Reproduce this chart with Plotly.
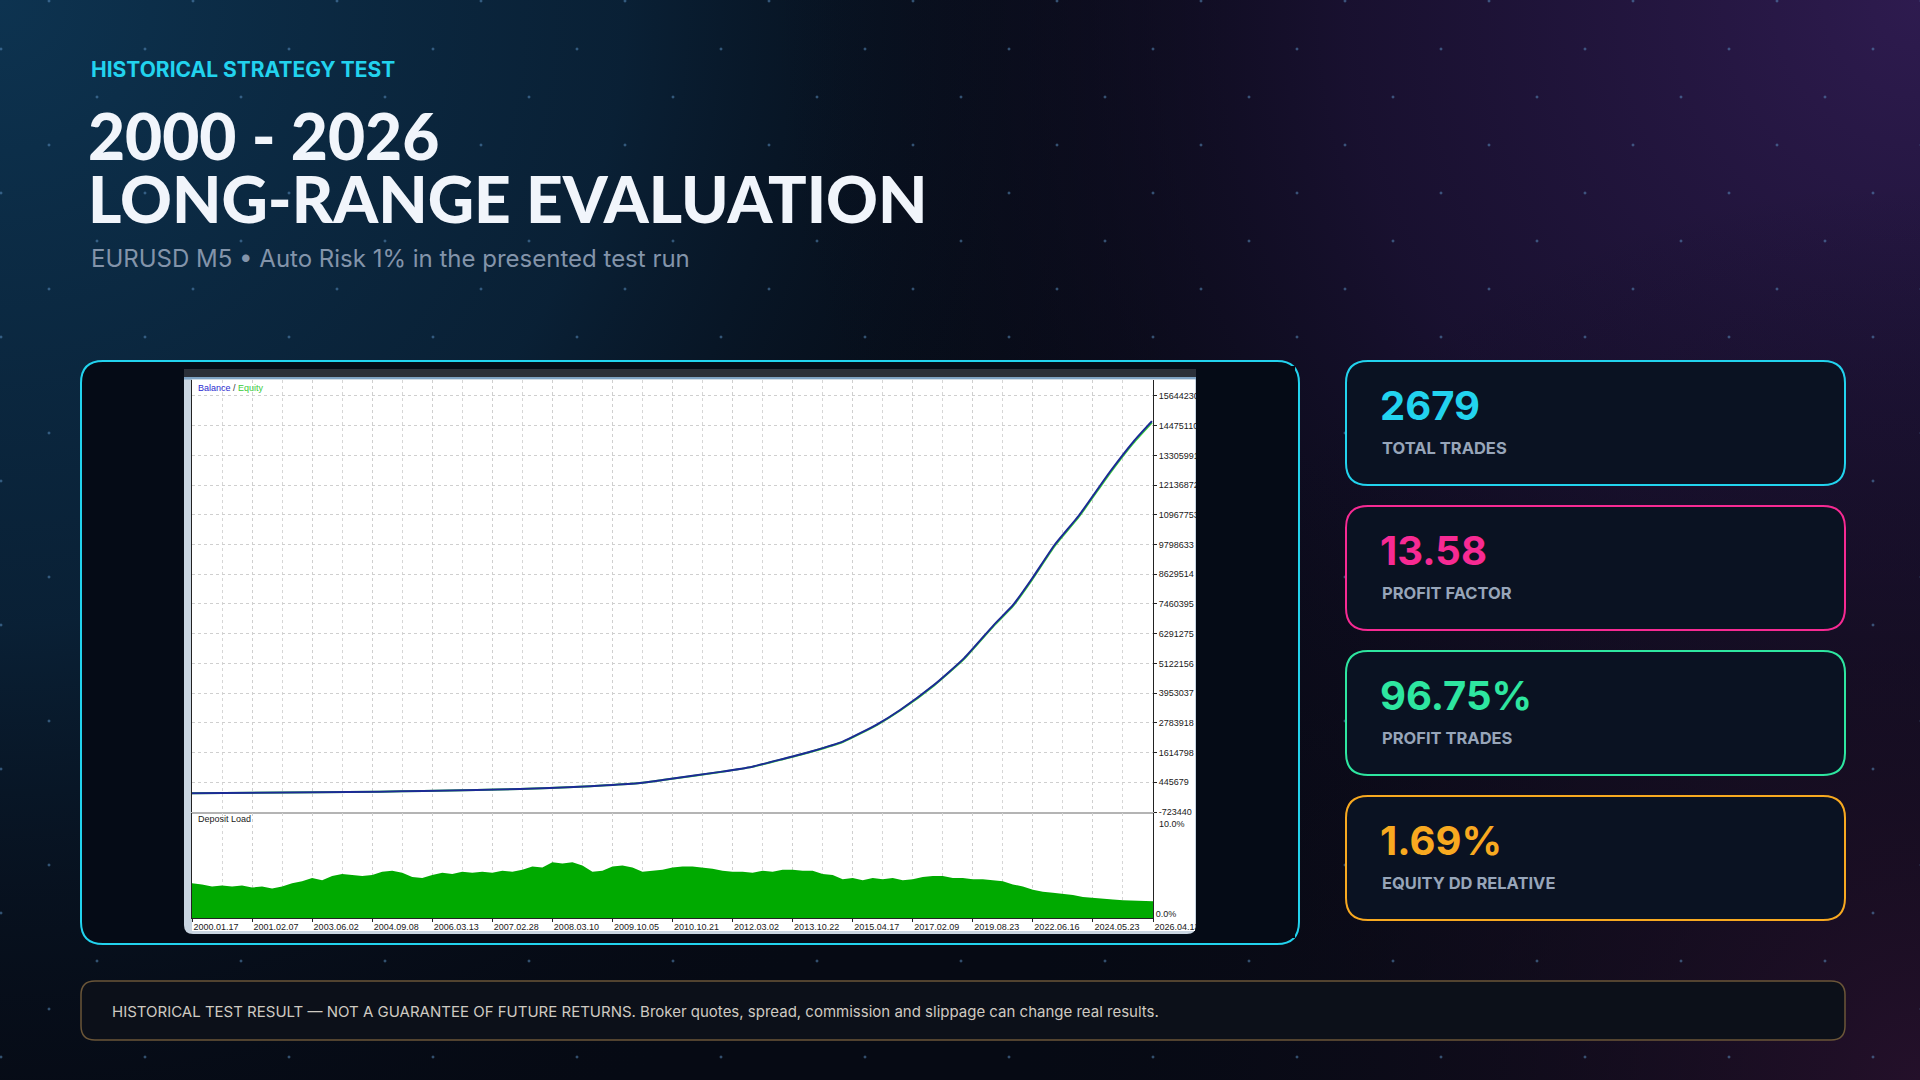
import base64
import numpy as np
import plotly.graph_objects as go

W, H = 1920, 1080

# balance curve (trade number -> account value)
balance_trade = [0, 351, 523, 645, 793, 914, 997, 1064, 1155, 1249, 1312, 1478, 1562, 1647,
                 1731, 1814, 1910, 1974, 2068, 2152, 2235, 2289, 2342, 2404, 2473, 2559, 2624, 2676]
balance_value = [10000, 52000, 78000, 104000, 144000, 183000, 222000, 262000, 328000, 420000,
                 537000, 865000, 1060000, 1363000, 1677000, 2044000, 2725000, 3289000, 4271000,
                 5320000, 6630000, 7420000, 8460000, 9770000, 10950000, 12660000, 13840000, 14650000]
equity_value = [10000, 51000, 77000, 103000, 143000, 181000, 220000, 260000, 325000, 416000,
                532000, 858000, 1052000, 1352000, 1665000, 2030000, 2708000, 3270000, 4248000,
                5295000, 6600000, 7385000, 8420000, 9725000, 10900000, 12610000, 13790000, 14600000]

# deposit load in %, sampled evenly across the trade axis
deposit_load = [3.3, 3.2, 3.0, 3.1, 3.0, 3.1, 2.9, 3.0, 2.8, 3.0, 3.3, 3.5, 3.8, 3.6, 4.0, 4.2,
                4.1, 4.0, 4.1, 4.4, 4.5, 4.3, 3.9, 3.8, 4.1, 4.3, 4.2, 4.4, 4.3, 4.4, 4.3, 4.5,
                4.4, 4.6, 4.9, 4.8, 5.3, 5.2, 5.3, 5.0, 4.4, 4.5, 4.9, 5.0, 4.8, 4.4, 4.5, 4.6,
                4.8, 4.9, 4.9, 4.8, 4.7, 4.5, 4.4, 4.4, 4.3, 4.5, 4.4, 4.6, 4.6, 4.5, 4.5, 4.2,
                4.1, 3.7, 3.8, 3.6, 3.8, 3.7, 3.8, 3.6, 3.7, 3.9, 4.0, 4.0, 3.8, 3.8, 3.7, 3.7,
                3.6, 3.5, 3.2, 3.0, 2.7, 2.5, 2.4, 2.3, 2.2, 2.0, 1.9, 1.8, 1.75, 1.7, 1.65, 1.65, 1.6]

total_trades = 2679
date_labels = ["2000.01.17", "2001.02.07", "2003.06.02", "2004.09.08", "2006.03.13", "2007.02.28",
               "2008.03.10", "2009.10.05", "2010.10.21", "2012.03.02", "2013.10.22", "2015.04.17",
               "2017.02.09", "2019.08.23", "2022.06.16", "2024.05.23", "2026.04.13"]
balance_ticks = [-723440, 445679, 1614798, 2783918, 3953037, 5122156, 6291275, 7460395, 8629514,
                 9798633, 10967753, 12136872, 13305991, 14475110, 15644230]
load_ticks = [0, 10]

card_values = ["2679", "13.58", "96.75%", "1.69%"]
card_labels = ["TOTAL TRADES", "PROFIT FACTOR", "PROFIT TRADES", "EQUITY DD RELATIVE"]
card_colors = ["#22d3ee", "#f72a93", "#2ee6a0", "#f8a920"]

PANEL = "#050b16"


def px(x):
    return x / W


def py(y):
    return 1 - y / H


def rrect(x0, y0, x1, y1, r):
    pts = [("M", [(x0 + r, y0)]), ("L", [(x1 - r, y0)]), ("Q", [(x1, y0), (x1, y0 + r)]),
           ("L", [(x1, y1 - r)]), ("Q", [(x1, y1), (x1 - r, y1)]), ("L", [(x0 + r, y1)]),
           ("Q", [(x0, y1), (x0, y1 - r)]), ("L", [(x0, y0 + r)]), ("Q", [(x0, y0), (x0 + r, y0)])]
    s = ""
    for cmd, ps in pts:
        s += cmd + " " + " ".join(f"{px(a):.5f},{py(b):.5f}" for a, b in ps) + " "
    return s + "Z"


# background: gradients + dotted lattice as an svg image
dots = ""
for j in range(0, 24):
    for i in range(0, 41):
        if (i + j) % 3 == 1:
            cx, cy = 1 + 48 * i, 1 + 48 * j
            dots += f"<rect x='{cx-1.5}' y='{cy-0.5}' width='3' height='1'/><rect x='{cx-0.5}' y='{cy-1.5}' width='1' height='3'/>"
svg = f"""<svg xmlns='http://www.w3.org/2000/svg' width='1920' height='1080' viewBox='0 0 1920 1080'>
<defs>
<radialGradient id='a' cx='0' cy='0' r='1250' gradientUnits='userSpaceOnUse'>
<stop offset='0' stop-color='#0d3350'/><stop offset='0.5' stop-color='#0a243b' stop-opacity='0.85'/><stop offset='1' stop-color='#070b16' stop-opacity='0'/></radialGradient>
<radialGradient id='b' cx='1920' cy='0' r='1150' gradientUnits='userSpaceOnUse'>
<stop offset='0' stop-color='#2e1b4f'/><stop offset='0.5' stop-color='#1d1236' stop-opacity='0.8'/><stop offset='1' stop-color='#0a0a18' stop-opacity='0'/></radialGradient>
<radialGradient id='c' cx='1920' cy='1080' r='900' gradientUnits='userSpaceOnUse'>
<stop offset='0' stop-color='#24102a'/><stop offset='1' stop-color='#0a0a16' stop-opacity='0'/></radialGradient>
</defs>
<rect width='1920' height='1080' fill='#060a14'/>
<rect width='1920' height='1080' fill='url(#a)'/>
<rect width='1920' height='1080' fill='url(#b)'/>
<rect width='1920' height='1080' fill='url(#c)'/>
<g fill='#5f93c4' fill-opacity='0.6'>{dots}</g>
</svg>"""
bg_src = "data:image/svg+xml;base64," + base64.b64encode(svg.encode()).decode()

fig = go.Figure()

dep_x = np.linspace(0, total_trades, len(deposit_load))
fig.add_trace(go.Scatter(x=dep_x, y=deposit_load, mode="lines", line=dict(width=0),
                         fill="tozeroy", fillcolor="#00aa00", xaxis="x2", yaxis="y2", hoverinfo="skip"))
fig.add_trace(go.Scatter(x=balance_trade, y=equity_value, mode="lines",
                         line=dict(color="#3ad23a", width=2, shape="spline", smoothing=0.5)))
fig.add_trace(go.Scatter(x=balance_trade, y=balance_value, mode="lines",
                         line=dict(color="#1c2a96", width=2, shape="spline", smoothing=0.5)))

major = list(np.linspace(0, total_trades, len(date_labels)))
minor_dt = total_trades / 32
tick_font = dict(family="Liberation Sans, Arial", size=9, color="#1a1a1a")
grid = dict(showgrid=True, gridcolor="#cfcfcf", griddash="dot", gridwidth=1, zeroline=False, automargin=False)

shapes = []
# chart panel
shapes.append(dict(type="path", path=rrect(81, 361, 1299, 944, 22), xref="paper", yref="paper",
                   fillcolor=PANEL, line=dict(color="#22d3ee", width=2), layer="below"))
# screenshot frame
shapes.append(dict(type="path", path=rrect(184, 369, 1196, 934, 9), xref="paper", yref="paper",
                   fillcolor="#c9d5e1", line=dict(width=0), layer="below"))
shapes.append(dict(type="rect", x0=px(184), x1=px(1196), y0=py(377), y1=py(369), xref="paper", yref="paper",
                   fillcolor="#2b3039", line=dict(width=0), layer="below"))
shapes.append(dict(type="rect", x0=px(184), x1=px(1196), y0=py(379.5), y1=py(377), xref="paper", yref="paper",
                   fillcolor="#7ea3c4", line=dict(width=0), layer="below"))
shapes.append(dict(type="rect", x0=px(192), x1=px(1195), y0=py(931), y1=py(379.5), xref="paper", yref="paper",
                   fillcolor="#ffffff", line=dict(width=0), layer="below"))
# hide axis labels running past the screenshot edge
shapes.append(dict(type="rect", x0=px(1196), x1=px(1295), y0=py(938), y1=py(366), xref="paper", yref="paper",
                   fillcolor=PANEL, line=dict(width=0), layer="above"))
# stat cards
for i in range(len(card_values)):
    top = 361 + i * 145
    shapes.append(dict(type="path", path=rrect(1346, top, 1845, top + 124, 22), xref="paper", yref="paper",
                       fillcolor="#0a1222", line=dict(color=card_colors[i], width=2), layer="below"))
# disclaimer bar
shapes.append(dict(type="path", path=rrect(81, 981, 1845, 1040, 14), xref="paper", yref="paper",
                   fillcolor="#0c1019", line=dict(color="#6b5638", width=1.5), layer="below"))

ann = []
ann.append(dict(text="<b>HISTORICAL STRATEGY TEST</b>", x=px(89), y=py(70), xanchor="left", yanchor="middle",
                font=dict(family="Inter", size=21, color="#22d3ee")))
ann.append(dict(text="2000 - 2026", x=px(86), y=py(135), xanchor="left", yanchor="middle",
                font=dict(family="Lato", size=64, color="#f1f5fb", weight=900)))
ann.append(dict(text="LONG-RANGE EVALUATION", x=px(86), y=py(199), xanchor="left", yanchor="middle",
                font=dict(family="Lato", size=64, color="#f1f5fb", weight=900)))
ann.append(dict(text="EURUSD M5 \u2022 Auto Risk 1% in the presented test run", x=px(89), y=py(258),
                xanchor="left", yanchor="middle", font=dict(family="Inter", size=24, color="#8394aa")))
ann.append(dict(text="<span style='color:#2a2ad0'>Balance</span> / <span style='color:#3ccc3c'>Equity</span>",
                x=px(196), y=py(388), xanchor="left", yanchor="middle",
                font=dict(family="Liberation Sans, Arial", size=9, color="#333333")))
ann.append(dict(text="Deposit Load", x=px(196), y=py(819), xanchor="left", yanchor="middle",
                font=dict(family="Liberation Sans, Arial", size=9, color="#1a1a1a")))
# top label of the deposit-load scale sits just under the separator, as in the tester
ann.append(dict(text=f"{load_ticks[1]:.1f}%", x=px(1157), y=py(824), xanchor="left", yanchor="middle",
                font=tick_font))
for i in range(len(card_values)):
    top = 361 + i * 145
    ann.append(dict(text=f"<b>{card_values[i]}</b>", x=px(1378), y=py(top + 44), xanchor="left", yanchor="middle",
                    font=dict(family="Inter", size=40, color=card_colors[i])))
    ann.append(dict(text=f"<b>{card_labels[i]}</b>", x=px(1380), y=py(top + 87), xanchor="left", yanchor="middle",
                    font=dict(family="Inter", size=16.5, color="#97a5b9")))
ann.append(dict(text="HISTORICAL TEST RESULT \u2014 NOT A GUARANTEE OF FUTURE RETURNS. Broker quotes, spread, "
                     "commission and slippage can change real results.",
                x=px(110), y=py(1011), xanchor="left", yanchor="middle",
                font=dict(family="Inter", size=15, color="#cfcac2")))
for a in ann:
    a.update(xref="paper", yref="paper", showarrow=False)

fig.update_layout(
    width=W, height=H, autosize=False, margin=dict(l=0, r=0, t=0, b=0, pad=0),
    paper_bgcolor="#060a14", plot_bgcolor="#ffffff", showlegend=False,
    images=[dict(source=bg_src, xref="paper", yref="paper", x=0, y=1, sizex=1, sizey=1,
                 xanchor="left", yanchor="top", sizing="stretch", layer="below")],
    shapes=shapes, annotations=ann,
    xaxis=dict(domain=[px(192), px(1153)], range=[0, total_trades], anchor="y", tickvals=major,
               showticklabels=False, ticks="", showline=True, linecolor="#b4b4b4", linewidth=2,
               minor=dict(dtick=minor_dt, tick0=0, showgrid=True, gridcolor="#d6d6d6", griddash="dot"), **grid),
    yaxis=dict(domain=[py(812), py(380)], range=[-723440, 16270000], anchor="x", side="right",
               tickvals=balance_ticks, ticktext=[str(v) for v in balance_ticks], ticks="outside", ticklen=3,
               tickcolor="#222222", tickfont=tick_font, showline=True, mirror=True,
               linecolor="#222222", linewidth=1, **grid),
    xaxis2=dict(domain=[px(192), px(1153)], range=[0, total_trades], anchor="y2", tickvals=major,
                ticktext=date_labels, ticks="outside", ticklen=3, tickcolor="#222222", tickfont=tick_font,
                ticklabelshift=24, ticklabelstandoff=-3, showline=True, linecolor="#222222", linewidth=1,
                minor=dict(dtick=minor_dt, tick0=0, showgrid=True, gridcolor="#d6d6d6", griddash="dot"), **grid),
    yaxis2=dict(domain=[py(918), py(813)], range=[load_ticks[0], load_ticks[1]], anchor="x2", side="right",
                tickvals=[load_ticks[0]], ticktext=[f"{load_ticks[0]:.1f}%"], ticks="", tickfont=tick_font,
                ticklabelshift=-4, automargin=False,
                showgrid=False, zeroline=False, showline=True, mirror=True, linecolor="#222222", linewidth=1),
)

fig.write_html("out.html", config={"displayModeBar": False},
               post_script="document.body.style.margin='0';document.body.style.overflow='hidden';")
